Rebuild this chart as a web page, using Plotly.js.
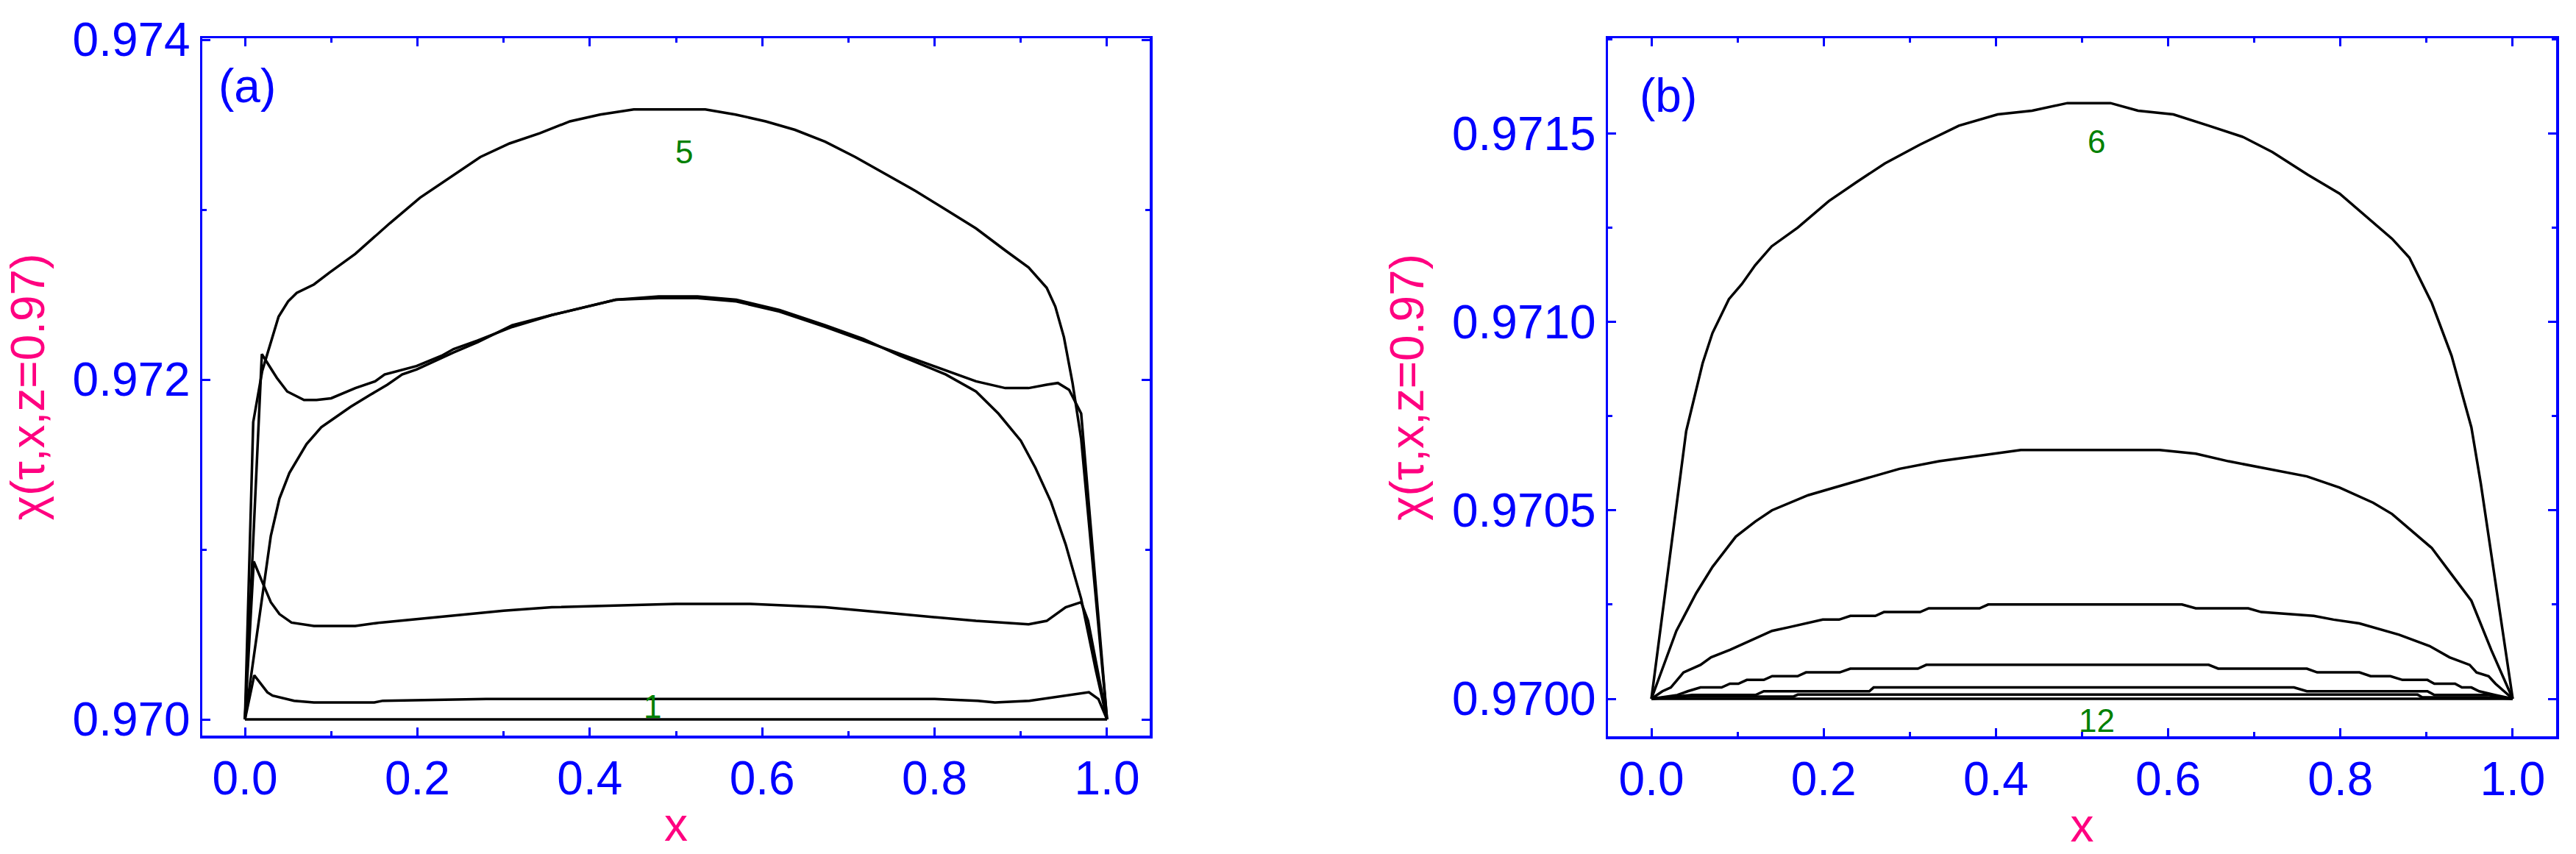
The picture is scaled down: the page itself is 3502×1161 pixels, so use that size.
<!DOCTYPE html>
<html>
<head>
<meta charset="utf-8">
<script src="https://cdn.plot.ly/plotly-3.0.1.min.js"></script>
<style>
  body { margin: 0; background: #fff; }
  #fig { width: 3502px; height: 1161px; }
</style>
</head>
<body>
<div id="fig"></div>
<script>
// ---- panel (a) : profiles chi(tau, x, z=0.97), curves 1..5 ----
var a1x = [0, 1.0];
var a1y = [0.970, 0.970];

var a2x = [0, 0.0108, 0.026, 0.032, 0.057, 0.08, 0.15, 0.16, 0.28, 0.36, 0.5, 0.6, 0.7, 0.8, 0.85, 0.87, 0.91, 0.95, 0.979, 0.99, 1.0];
var a2y = [0.970, 0.97026, 0.97016, 0.97014, 0.97011, 0.97010, 0.97010, 0.97011, 0.97012, 0.97012, 0.97012, 0.97012, 0.97012, 0.97012, 0.97011, 0.97010, 0.97011, 0.97014, 0.97016, 0.97012, 0.970];

var a3x = [0, 0.0102, 0.02, 0.03, 0.04, 0.054, 0.08, 0.128, 0.157, 0.2, 0.242, 0.3, 0.356, 0.42, 0.5, 0.586, 0.673, 0.76, 0.848, 0.909, 0.93, 0.952, 0.97, 0.978, 1.0];
var a3y = [0.970, 0.97093, 0.97081, 0.97069, 0.97062, 0.97057, 0.97055, 0.97055, 0.97057, 0.97059, 0.97061, 0.97064, 0.97066, 0.97067, 0.97068, 0.97068, 0.97066, 0.97062, 0.97058, 0.97056, 0.97058, 0.97066, 0.97069, 0.97058, 0.970];

var a4x = [0, 0.0196, 0.032, 0.037, 0.049, 0.0685, 0.083, 0.1, 0.128, 0.151, 0.162, 0.199, 0.228, 0.242, 0.27, 0.31, 0.356, 0.43, 0.48, 0.525, 0.57, 0.62, 0.673, 0.717, 0.76, 0.804, 0.848, 0.882, 0.909, 0.93, 0.943, 0.956, 0.97, 1.0];
var a4y = [0.970, 0.97215, 0.97205, 0.97201, 0.97193, 0.97188, 0.97188, 0.97189, 0.97195, 0.97199, 0.97203, 0.97208, 0.97214, 0.97218, 0.97223, 0.97231, 0.97238, 0.97247, 0.97248, 0.97248, 0.97246, 0.97240, 0.97231, 0.97223, 0.97215, 0.97207, 0.97199, 0.97195, 0.97195, 0.97197, 0.97198, 0.97194, 0.97180, 0.970];

var a5x = [0, 0.0096, 0.02, 0.03, 0.039, 0.05, 0.06, 0.08, 0.098, 0.128, 0.148, 0.168, 0.203, 0.238, 0.273, 0.307, 0.342, 0.377, 0.412, 0.451, 0.49, 0.534, 0.569, 0.604, 0.638, 0.673, 0.708, 0.743, 0.778, 0.813, 0.848, 0.882, 0.909, 0.93, 0.94, 0.95, 0.96, 0.97, 1.0];
var a5y = [0.970, 0.97175, 0.97205, 0.97222, 0.97237, 0.97246, 0.97251, 0.97256, 0.97263, 0.97274, 0.97283, 0.97292, 0.97307, 0.97319, 0.97331, 0.97339, 0.97345, 0.97352, 0.97356, 0.97359, 0.97359, 0.97359, 0.97356, 0.97352, 0.97347, 0.97340, 0.97331, 0.97321, 0.97311, 0.97300, 0.97289, 0.97276, 0.97266, 0.97254, 0.97243, 0.97225, 0.97198, 0.97165, 0.970];

var a6x = [0, 0.01, 0.02, 0.03, 0.04, 0.0515, 0.0714, 0.0885, 0.1027, 0.1226, 0.1453, 0.1652, 0.1823, 0.1994, 0.242, 0.27, 0.31, 0.356, 0.43, 0.48, 0.525, 0.57, 0.62, 0.673, 0.717, 0.76, 0.813, 0.848, 0.874, 0.9, 0.917, 0.935, 0.952, 0.97, 0.987, 1.0];
var a6y = [0.970, 0.97036, 0.97071, 0.97108, 0.97130, 0.97145, 0.97162, 0.97172, 0.97177, 0.97184, 0.97191, 0.97197, 0.97203, 0.97206, 0.97216, 0.97222, 0.97232, 0.97238, 0.97247, 0.97249, 0.97249, 0.97247, 0.97241, 0.97232, 0.97224, 0.97214, 0.97203, 0.97193, 0.97180, 0.97164, 0.97148, 0.97128, 0.97103, 0.97071, 0.97029, 0.970];

// ---- panel (b) : curves 6..12 ----
var b6x = [0, 0.0404, 0.0595, 0.0709, 0.09, 0.105, 0.1205, 0.1396, 0.17, 0.206, 0.238, 0.271, 0.312, 0.357, 0.402, 0.442, 0.483, 0.533, 0.565, 0.606, 0.647, 0.687, 0.721, 0.762, 0.799, 0.83, 0.86, 0.88, 0.891, 0.906, 0.929, 0.952, 0.963, 1.0];
var b6y = [0.9700, 0.97071, 0.97089, 0.97097, 0.97106, 0.97110, 0.97115, 0.97120, 0.97125, 0.97132, 0.97137, 0.97142, 0.97147, 0.97152, 0.97155, 0.97156, 0.97158, 0.97158, 0.97156, 0.97155, 0.97152, 0.97149, 0.97145, 0.97139, 0.97134, 0.97128, 0.97122, 0.97117, 0.97112, 0.97105, 0.97091, 0.97072, 0.97057, 0.9700];

var b7x = [0, 0.029, 0.052, 0.071, 0.098, 0.1205, 0.14, 0.182, 0.212, 0.243, 0.288, 0.334, 0.395, 0.429, 0.59, 0.632, 0.67, 0.715, 0.761, 0.799, 0.838, 0.86, 0.906, 0.929, 0.952, 0.975, 1.0];
var b7y = [0.9700, 0.97018, 0.97028, 0.97035, 0.97043, 0.97047, 0.97050, 0.97054, 0.97056, 0.97058, 0.97061, 0.97063, 0.97065, 0.97066, 0.97066, 0.97065, 0.97063, 0.97061, 0.97059, 0.97056, 0.97052, 0.97049, 0.97040, 0.97033, 0.97026, 0.97013, 0.9700];

var b8x = [0, 0.0128, 0.0226, 0.0373, 0.057, 0.0693, 0.0914, 0.14, 0.16, 0.179, 0.199, 0.218, 0.231, 0.26, 0.27, 0.312, 0.322, 0.381, 0.391, 0.616, 0.632, 0.693, 0.708, 0.769, 0.792, 0.822, 0.868, 0.9035, 0.9266, 0.95, 0.958, 0.972, 0.98, 1.0];
var b8y = [0.9700, 0.97002, 0.97003, 0.97007, 0.97009, 0.97011, 0.97013, 0.97018, 0.97019, 0.97020, 0.97021, 0.97021, 0.97022, 0.97022, 0.97023, 0.97023, 0.97024, 0.97024, 0.97025, 0.97025, 0.97024, 0.97024, 0.97023, 0.97022, 0.97021, 0.97020, 0.97017, 0.97014, 0.97011, 0.97009, 0.97007, 0.97006, 0.97004, 0.9700];

var b9x = [0, 0.03, 0.0422, 0.057, 0.0815, 0.0912, 0.101, 0.1108, 0.1305, 0.1402, 0.1697, 0.1795, 0.2187, 0.2309, 0.3094, 0.3192, 0.647, 0.658, 0.761, 0.773, 0.822, 0.835, 0.858, 0.872, 0.901, 0.909, 0.933, 0.941, 0.952, 0.961, 0.98, 1.0];
var b9y = [0.9700, 0.97001, 0.97002, 0.97003, 0.97003, 0.97004, 0.97004, 0.97005, 0.97005, 0.97006, 0.97006, 0.97007, 0.97007, 0.97008, 0.97008, 0.97009, 0.97009, 0.97008, 0.97008, 0.97007, 0.97007, 0.97006, 0.97006, 0.97005, 0.97005, 0.97004, 0.97004, 0.97003, 0.97003, 0.97002, 0.97001, 0.9700];

var b10x = [0, 0.0472, 0.121, 0.1305, 0.253, 0.258, 0.746, 0.761, 0.901, 0.909, 0.972, 1.0];
var b10y = [0.9700, 0.97001, 0.97001, 0.97002, 0.97002, 0.97003, 0.97003, 0.97002, 0.97002, 0.97001, 0.97001, 0.9700];

var b11x = [0, 0.042, 0.165, 0.17, 0.8895, 0.895, 0.97, 1.0];
var b11y = [0.9700, 0.970006, 0.970006, 0.970011, 0.970011, 0.970004, 0.970004, 0.9700];

var b12x = [0, 1.0];
var b12y = [0.9700, 0.9700];

// curve labels (green numbers) and panel tags
var labelsA = {text: ["5", "1"], x: [0.509, 0.473], y: [0.97334, 0.970074]};
var labelsB = {text: ["6", "12"], x: [0.517, 0.517], y: [0.971477, 0.969943]};
var panelTags = ["(a)", "(b)"];
var yTitle = "\u03c7(\u03c4,x,z=0.97)";
var xTitle = "x";

var FONT = "Liberation Sans, Arial, sans-serif";
var BLUE = "#0000ff";
var PINK = "#ff0080";
var GREEN = "#008000";

function curve(x, y, xa, ya) {
  return {x: x, y: y, xaxis: xa, yaxis: ya, type: "scatter", mode: "lines",
          line: {color: "#000", width: 3.5}, showlegend: false, hoverinfo: "skip"};
}

var traces = [
  curve(a1x, a1y, "x", "y"), curve(a2x, a2y, "x", "y"), curve(a3x, a3y, "x", "y"),
  curve(a4x, a4y, "x", "y"), curve(a5x, a5y, "x", "y"), curve(a6x, a6y, "x", "y"),
  curve(b6x, b6y, "x2", "y2"), curve(b7x, b7y, "x2", "y2"), curve(b8x, b8y, "x2", "y2"),
  curve(b9x, b9y, "x2", "y2"), curve(b10x, b10y, "x2", "y2"), curve(b11x, b11y, "x2", "y2"),
  curve(b12x, b12y, "x2", "y2")
];

function axis(extra) {
  var ax = {
    showline: true, linecolor: BLUE, linewidth: 3.5, mirror: "ticks",
    ticks: "inside", ticklen: 11, tickwidth: 3, tickcolor: BLUE,
    showgrid: false, zeroline: false,
    tickfont: {family: FONT, size: 64, color: BLUE}
  };
  for (var k in extra) ax[k] = extra[k];
  return ax;
}

function minor(dt) {
  return {dtick: dt, ticks: "inside", ticklen: 6, tickwidth: 3, tickcolor: BLUE, showgrid: false};
}

var xtitle = {text: xTitle, font: {family: FONT, size: 64, color: PINK}, standoff: 6};
var ytitle = {text: yTitle, font: {family: FONT, size: 64, color: PINK}, standoff: 18};

var annots = [];
function tag(txt, px, py) {
  annots.push({text: txt, xref: "paper", yref: "paper", x: px, y: py,
               xanchor: "left", yanchor: "middle", showarrow: false,
               font: {family: FONT, size: 64, color: BLUE}});
}
tag(panelTags[0], 295 / 3502, 1 - 117 / 1161);
tag(panelTags[1], 2227 / 3502, 1 - 130 / 1161);

function numbers(lab, xr, yr) {
  for (var i = 0; i < lab.text.length; i++)
    annots.push({text: lab.text[i], xref: xr, yref: yr, x: lab.x[i], y: lab.y[i],
                 xanchor: "center", yanchor: "middle", showarrow: false,
                 font: {family: FONT, size: 44, color: GREEN}});
}
numbers(labelsA, "x", "y");
numbers(labelsB, "x2", "y2");

var layout = {
  width: 3502, height: 1161,
  margin: {l: 0, r: 0, t: 0, b: 0},
  paper_bgcolor: "#fff", plot_bgcolor: "#fff",
  showlegend: false,
  xaxis: axis({domain: [275 / 3502, 1563 / 3502], anchor: "y", range: [-0.0495, 1.0495],
               tick0: 0, dtick: 0.2, tickformat: ".1f", minor: minor(0.1), title: xtitle}),
  yaxis: axis({domain: [1 - 1000 / 1161, 1 - 52 / 1161], anchor: "x", range: [0.969905, 0.974009],
               tick0: 0.970, dtick: 0.002, tickformat: ".3f", minor: minor(0.001), title: ytitle}),
  xaxis2: axis({domain: [2186 / 3502, 3475 / 3502], anchor: "y2", range: [-0.0504, 1.0504],
                tick0: 0, dtick: 0.2, tickformat: ".1f", minor: minor(0.1), title: xtitle}),
  yaxis2: axis({domain: [1 - 1001 / 1161, 1 - 52 / 1161], anchor: "x2", range: [0.9699005, 0.971752],
                tick0: 0.970, dtick: 0.0005, tickformat: ".4f", minor: minor(0.00025), title: ytitle}),
  annotations: annots
};

Plotly.newPlot("fig", traces, layout, {staticPlot: true});
</script>
</body>
</html>
